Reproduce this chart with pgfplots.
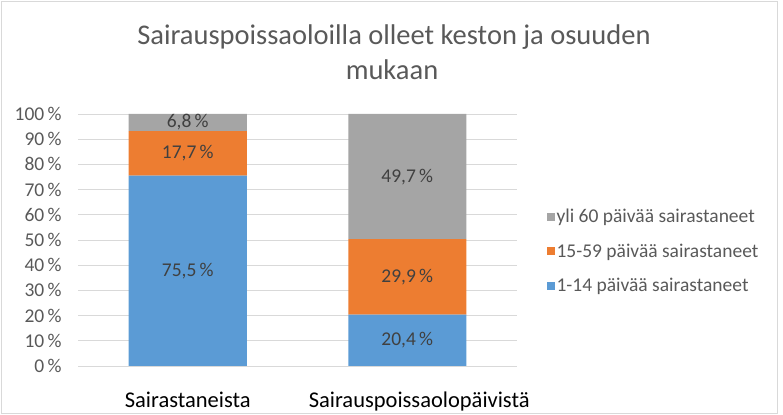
\documentclass[border=0pt]{standalone}
\usepackage{pgfplots}
\pgfplotsset{compat=1.18}
\usepackage{fontspec}
\setmainfont{Carlito}
\definecolor{cblue}{HTML}{5B9BD5}
\definecolor{corange}{HTML}{ED7D31}
\definecolor{cgray}{HTML}{A5A5A5}
\definecolor{cgrid}{HTML}{D9D9D9}
\definecolor{ctext}{HTML}{595959}
\definecolor{clabel}{HTML}{404040}
\begin{document}
\begin{tikzpicture}
\useasboundingbox (0,0) rectangle (783bp,415bp);
\draw[cgrid, line width=0.75bp] (1.5bp,1.5bp) rectangle (777bp,414bp);
\node[text=ctext, font=\fontsize{28.5bp}{33bp}\selectfont, anchor=base, inner sep=0pt] at (394bp, 370bp) {Sairauspoissaoloilla olleet keston ja osuuden};
\node[text=ctext, font=\fontsize{28.5bp}{33bp}\selectfont, anchor=base, inner sep=0pt] at (392bp, 335bp) {mukaan};
\begin{axis}[
  at={(78bp,49bp)}, anchor=south west,
  scale only axis, width=439bp, height=252bp,
  xmin=-0.5, xmax=1.5, ymin=0, ymax=100,
  ybar stacked, bar width=118bp,
  xtick={0,1}, xticklabels={Sairastaneista, {\hspace*{24bp}Sairauspoissaolopäivistä}},
  ytick={0,10,...,100},
  yticklabel={\pgfmathprintnumber{\tick}\,\%},
  ymajorgrids, grid style={cgrid, line width=0.75bp},
  axis line style={draw=none},
  major tick length=0pt,
  /pgf/number format/assume math mode=true,
  yticklabel style={text=ctext, font=\fontsize{19.5bp}{22bp}\selectfont, xshift=-13bp},
  xticklabel style={text=black, font=\fontsize{22.5bp}{26bp}\selectfont, anchor=base, yshift=-41bp},
  nodes near coords={\pgfmathprintnumber[fixed,fixed zerofill,precision=1,use comma]{\pgfplotspointmeta}\,\%},
  every node near coord/.append style={anchor=center, text=clabel, font=\fontsize{19.5bp}{22bp}\selectfont},
  legend style={at={(1.06,0.638)}, anchor=north west, draw=none, fill=none, row sep=15.5bp, font=\fontsize{19.5bp}{22bp}\selectfont, text=ctext, legend cell align=left},
  legend image code/.code={\fill[#1] (0bp,-4bp) rectangle (8bp,4bp);},
  reverse legend,
]
\addplot[fill=cblue, draw=none] coordinates {(0,75.5) (1,20.4)};
\addplot[fill=corange, draw=none] coordinates {(0,17.7) (1,29.9)};
\addplot[fill=cgray, draw=none] coordinates {(0,6.8) (1,49.7)};
\legend{1-14 päivää sairastaneet, 15-59 päivää sairastaneet, yli 60 päivää sairastaneet}
\end{axis}
\end{tikzpicture}
\end{document}
